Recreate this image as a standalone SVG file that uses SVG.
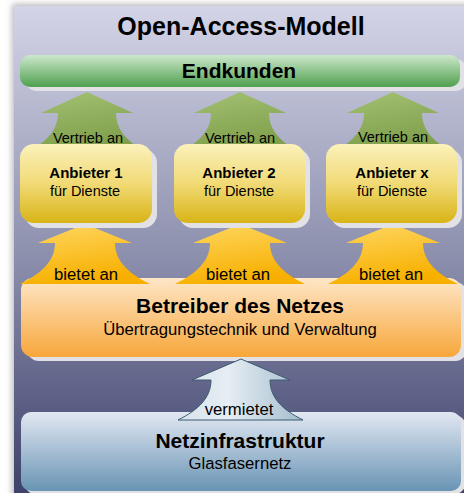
<svg xmlns="http://www.w3.org/2000/svg" width="464" height="493" viewBox="0 0 464 493">
  <defs>
    <linearGradient id="gPanel" x1="0" y1="0" x2="0" y2="1">
      <stop offset="0" stop-color="#d3d4e7"/>
      <stop offset="0.5" stop-color="#8e91ae"/>
      <stop offset="1" stop-color="#3d416b"/>
    </linearGradient>
    <linearGradient id="gGreenBar" x1="0" y1="0" x2="0" y2="1">
      <stop offset="0" stop-color="#cde8cc"/>
      <stop offset="1" stop-color="#4fa04f"/>
    </linearGradient>
    <linearGradient id="gGreenArrow" x1="0" y1="0" x2="0.3" y2="1">
      <stop offset="0" stop-color="#a3c173"/>
      <stop offset="1" stop-color="#80a04c"/>
    </linearGradient>
    <linearGradient id="gYellow" x1="0" y1="0" x2="0" y2="1">
      <stop offset="0" stop-color="#fbf1bb"/>
      <stop offset="0.5" stop-color="#f1da76"/>
      <stop offset="1" stop-color="#d8b416"/>
    </linearGradient>
    <linearGradient id="gOrangeArrow" x1="0" y1="0" x2="0.3" y2="1">
      <stop offset="0" stop-color="#ffd865"/>
      <stop offset="1" stop-color="#f7b000"/>
    </linearGradient>
    <linearGradient id="gOrange" x1="0" y1="0" x2="0" y2="1">
      <stop offset="0" stop-color="#fee6c8"/>
      <stop offset="1" stop-color="#f7a73a"/>
    </linearGradient>
    <linearGradient id="gBlueArrow" x1="0" y1="0" x2="1" y2="0">
      <stop offset="0" stop-color="#d7e2ec"/>
      <stop offset="0.4" stop-color="#e6edf3"/>
      <stop offset="1" stop-color="#a3bccd"/>
    </linearGradient>
    <linearGradient id="gBlue" x1="0" y1="0" x2="0" y2="1">
      <stop offset="0" stop-color="#e2e8f2"/>
      <stop offset="1" stop-color="#6994b4"/>
    </linearGradient>
    <filter id="soft" x="-10%" y="-10%" width="120%" height="120%">
      <feGaussianBlur stdDeviation="3"/>
    </filter>
  </defs>
  <style>
    text { font-family: "Liberation Sans", Arial, sans-serif; fill: #000; text-anchor: middle; }
    .title { font-size: 25px; font-weight: bold; }
    .head { font-size: 21px; font-weight: bold; }
    .sub { font-size: 16.7px; }
    .abold { font-size: 15px; font-weight: bold; }
    .asub { font-size: 14.5px; }
    .lbl { font-size: 14.5px; }
    .lbl2 { font-size: 16.7px; }
    .shadow { fill: #e2e2e6; }
  </style>

  <!-- background panel -->
  <rect x="12" y="4" width="460" height="500" fill="#b8b8bc" filter="url(#soft)"/>
  <rect x="14" y="6" width="452" height="490" fill="url(#gPanel)"/>

  <g id="title">
    <text class="title" x="241" y="35">Open-Access-Modell</text>
  </g>

  <g id="endkunden">
    <rect class="shadow" x="26" y="59" width="440" height="32" rx="10"/>
    <rect x="20" y="55" width="440" height="32" rx="10" fill="url(#gGreenBar)"/>
    <text class="head" x="239" y="78">Endkunden</text>
  </g>

  <g id="betreiber">
    <rect class="shadow" x="27" y="282" width="440" height="79" rx="12"/>
    <rect x="21" y="278" width="440" height="79" rx="12" fill="url(#gOrange)"/>
    <text class="head" x="240" y="313">Betreiber des Netzes</text>
    <text class="sub" x="240" y="335">Übertragungstechnik und Verwaltung</text>
  </g>

  <g id="netzinfrastruktur">
    <rect class="shadow" x="25" y="415" width="440" height="79" rx="10"/>
    <rect x="21" y="412" width="440" height="79" rx="10" fill="url(#gBlue)"/>
    <text class="head" x="240" y="448">Netzinfrastruktur</text>
    <text class="sub" x="240" y="469">Glasfasernetz</text>
  </g>

  <g id="connectors">
    <!-- Vertrieb an (green) -->
    <path fill="url(#gGreenArrow)" d="M87,92 L133,113 L116,113 C116,130 127,140 142,150 L32,150 C47,140 58,130 58,113 L41,113 Z"/>
    <path fill="url(#gGreenArrow)" d="M240,92 L286,113 L269,113 C269,130 280,140 295,150 L185,150 C200,140 211,130 211,113 L194,113 Z"/>
    <path fill="url(#gGreenArrow)" d="M393,92 L439,113 L422,113 C422,130 433,140 448,150 L338,150 C353,140 364,130 364,113 L347,113 Z"/>
    <text class="lbl" x="88" y="143">Vertrieb an</text>
    <text class="lbl" x="240" y="143">Vertrieb an</text>
    <text class="lbl" x="393" y="142">Vertrieb an</text>

    <!-- bietet an (orange) -->
    <path fill="url(#gOrangeArrow)" d="M85,224 L132,243 L115,243 C115,262 130,274 150,284 L20,284 C40,274 55,262 55,243 L38,243 Z"/>
    <path fill="url(#gOrangeArrow)" d="M240,224 L287,243 L270,243 C270,262 285,274 305,284 L175,284 C195,274 210,262 210,243 L193,243 Z"/>
    <path fill="url(#gOrangeArrow)" d="M393,224 L440,243 L423,243 C423,262 438,274 458,284 L328,284 C348,274 363,262 363,243 L346,243 Z"/>
    <text class="lbl2" x="86" y="280">bietet an</text>
    <text class="lbl2" x="238" y="280">bietet an</text>
    <text class="lbl2" x="391" y="280">bietet an</text>

    <!-- vermietet (blue) -->
    <path fill="url(#gBlueArrow)" stroke="#3d5a70" stroke-width="1" d="M241,359 L290,380 L270,380 C270,398 283,410 303,420 L178,420 C198,410 211,398 211,380 L192,380 Z"/>
    <text class="lbl2" x="239" y="415">vermietet</text>
  </g>

  <g id="anbieter1">
    <rect class="shadow" x="25" y="149" width="132" height="79" rx="14"/>
    <rect x="20" y="144" width="132" height="79" rx="14" fill="url(#gYellow)"/>
    <text class="abold" x="86" y="178">Anbieter 1</text>
    <text class="asub" x="85" y="196">für Dienste</text>
  </g>
  <g id="anbieter2">
    <rect class="shadow" x="179" y="149" width="131" height="79" rx="14"/>
    <rect x="174" y="144" width="131" height="79" rx="14" fill="url(#gYellow)"/>
    <text class="abold" x="239" y="178">Anbieter 2</text>
    <text class="asub" x="239" y="196">für Dienste</text>
  </g>
  <g id="anbieter3">
    <rect class="shadow" x="331" y="149" width="131" height="79" rx="14"/>
    <rect x="326" y="144" width="131" height="79" rx="14" fill="url(#gYellow)"/>
    <text class="abold" x="392" y="178">Anbieter x</text>
    <text class="asub" x="392" y="196">für Dienste</text>
  </g>
</svg>
